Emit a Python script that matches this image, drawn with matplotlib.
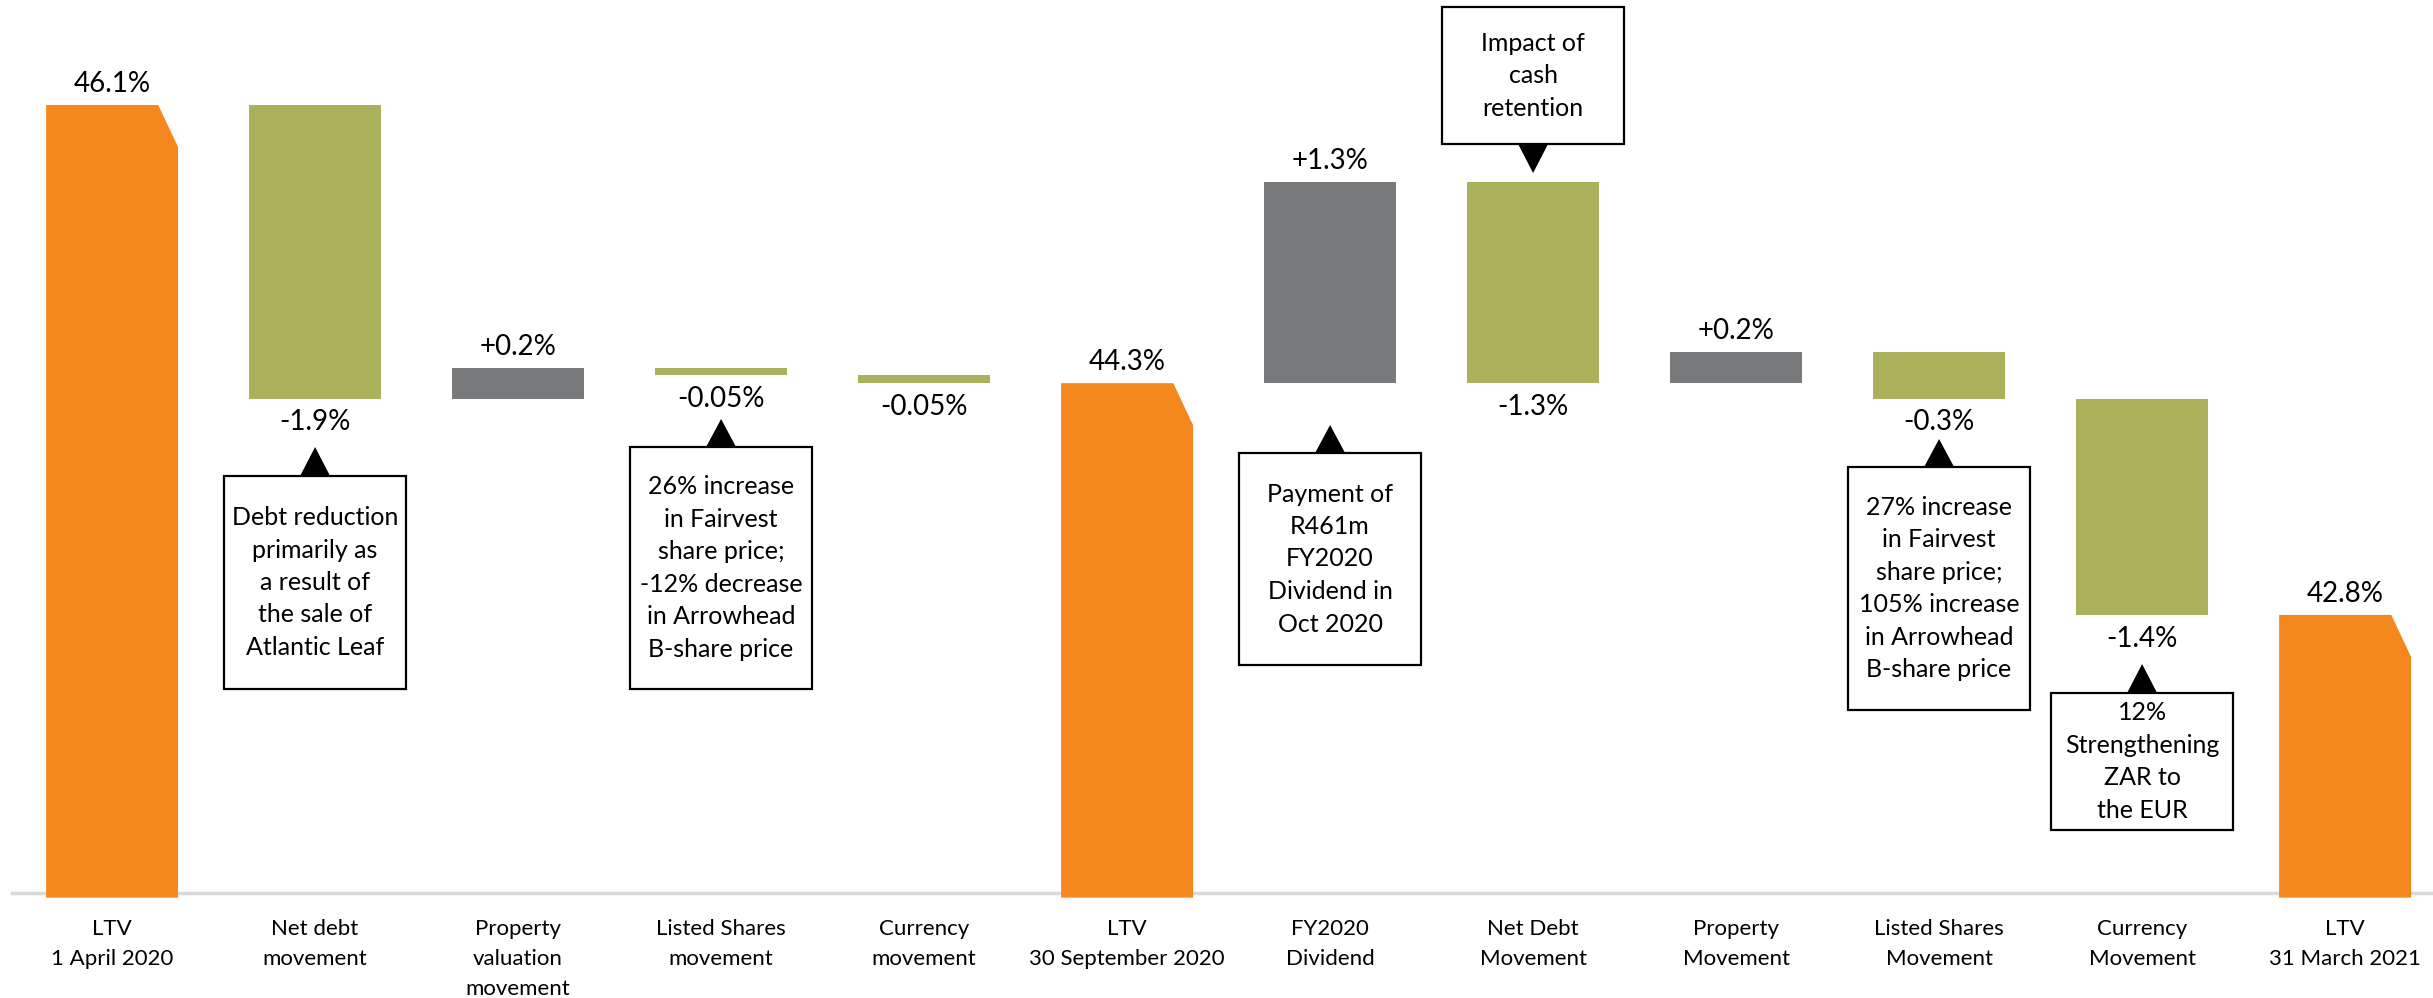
import matplotlib
matplotlib.use('Agg')
import matplotlib.pyplot as plt
import matplotlib.patches as patches

plt.rcParams['font.family'] = ['Lato', 'DejaVu Sans']

# chart data
categories = ['LTV\n1 April 2020', 'Net debt\nmovement', 'Property\nvaluation\nmovement',
              'Listed Shares\nmovement', 'Currency\nmovement', 'LTV\n30 September 2020',
              'FY2020\nDividend', 'Net Debt\nMovement', 'Property\nMovement',
              'Listed Shares\nMovement', 'Currency\nMovement', 'LTV\n31 March 2021']
kinds = ['total', 'delta', 'delta', 'delta', 'delta', 'total',
         'delta', 'delta', 'delta', 'delta', 'delta', 'total']
values = [46.1, -1.9, 0.2, -0.05, -0.05, 44.3, 1.3, -1.3, 0.2, -0.3, -1.4, 42.8]
value_labels = ['46.1%', '-1.9%', '+0.2%', '-0.05%', '-0.05%', '44.3%',
                '+1.3%', '-1.3%', '+0.2%', '-0.3%', '-1.4%', '42.8%']

# callout notes: (bar index, text)
notes_idx = [1, 3, 6, 7, 9, 10]
notes_txt = ['Debt reduction\nprimarily as\na result of\nthe sale of\nAtlantic Leaf',
             '26% increase\nin Fairvest\nshare price;\n-12% decrease\nin Arrowhead\nB-share price',
             'Payment of\nR461m\nFY2020\nDividend in\nOct 2020',
             'Impact of\ncash\nretention',
             '27% increase\nin Fairvest\nshare price;\n105% increase\nin Arrowhead\nB-share price',
             '12%\nStrengthening\nZAR to\nthe EUR']

orange = '#F5871F'
green = '#ABB05A'
grey = '#78797B'

y0 = 41.0          # value at the axis line
pxu = 154.5        # pixels per percentage point


def py(p):
    # pixel row (from top) -> data value
    return y0 + (893 - p) / pxu


fig = plt.figure(figsize=(24.33, 9.98), dpi=100)
ax = fig.add_axes([12 / 2433, 105 / 998, 1 - 12 / 2433, 893 / 998])
ax.set_xlim(-0.493, 11.433)
ax.set_ylim(y0, py(0))

w = 0.65
level = 0
for i in range(len(values)):
    if kinds[i] == 'total':
        v = values[i]
        l, r = i - w / 2, i + w / 2
        cx, cy = 0.15 * w, 42 / pxu
        ax.fill([l, l, r - cx, r, r], [y0 - 0.03, v, v, v - cy, y0 - 0.03],
                color=orange, lw=0, zorder=3, clip_on=False)
        level = v
        ax.annotate(value_labels[i], (i, v), xytext=(0, 15), textcoords='offset points',
                    ha='center', va='center', fontsize=20)
    else:
        d = values[i]
        ax.bar(i, d, bottom=level, width=w, color=green if d < 0 else grey, zorder=3)
        new = level + d
        if d < 0:
            ax.annotate(value_labels[i], (i, new), xytext=(0, -17), textcoords='offset points',
                        ha='center', va='center', fontsize=20)
        else:
            ax.annotate(value_labels[i], (i, new), xytext=(0, 15), textcoords='offset points',
                        ha='center', va='center', fontsize=20)
        level = new

# callout boxes (top, bottom, arrow tip in pixel rows)
box_top = [476, 447, 453, 7, 467, 693]
box_bot = [689, 689, 665, 144, 710, 830]
tips = [447, 419, 425, 173, 439, 664]
bw = 182 / 203
tw = 30 / 203
for k in range(len(notes_idx)):
    x = notes_idx[k]
    top, bot = py(box_top[k]), py(box_bot[k])
    ax.add_patch(patches.Rectangle((x - bw / 2, bot), bw, top - bot, facecolor='white',
                                   edgecolor='black', lw=1.6, zorder=4))
    if tips[k] < box_top[k]:
        base = top
    else:
        base = bot
    ax.fill([x - tw / 2, x + tw / 2, x], [base, base, py(tips[k])], color='black', lw=0, zorder=5)
    ax.text(x, (top + bot) / 2, notes_txt[k], ha='center', va='center', fontsize=18,
            linespacing=1.5, zorder=6)

for s in ['top', 'left', 'right']:
    ax.spines[s].set_visible(False)
ax.spines['bottom'].set_color('#d9d9d9')
ax.spines['bottom'].set_linewidth(2.5)
ax.spines['bottom'].set_zorder(1)
ax.set_yticks([])
ax.set_xticks(range(len(categories)))
ax.set_xticklabels(categories, fontsize=16, linespacing=1.6)
ax.tick_params(axis='x', length=0, pad=19)

plt.savefig('out.png', dpi=100)
